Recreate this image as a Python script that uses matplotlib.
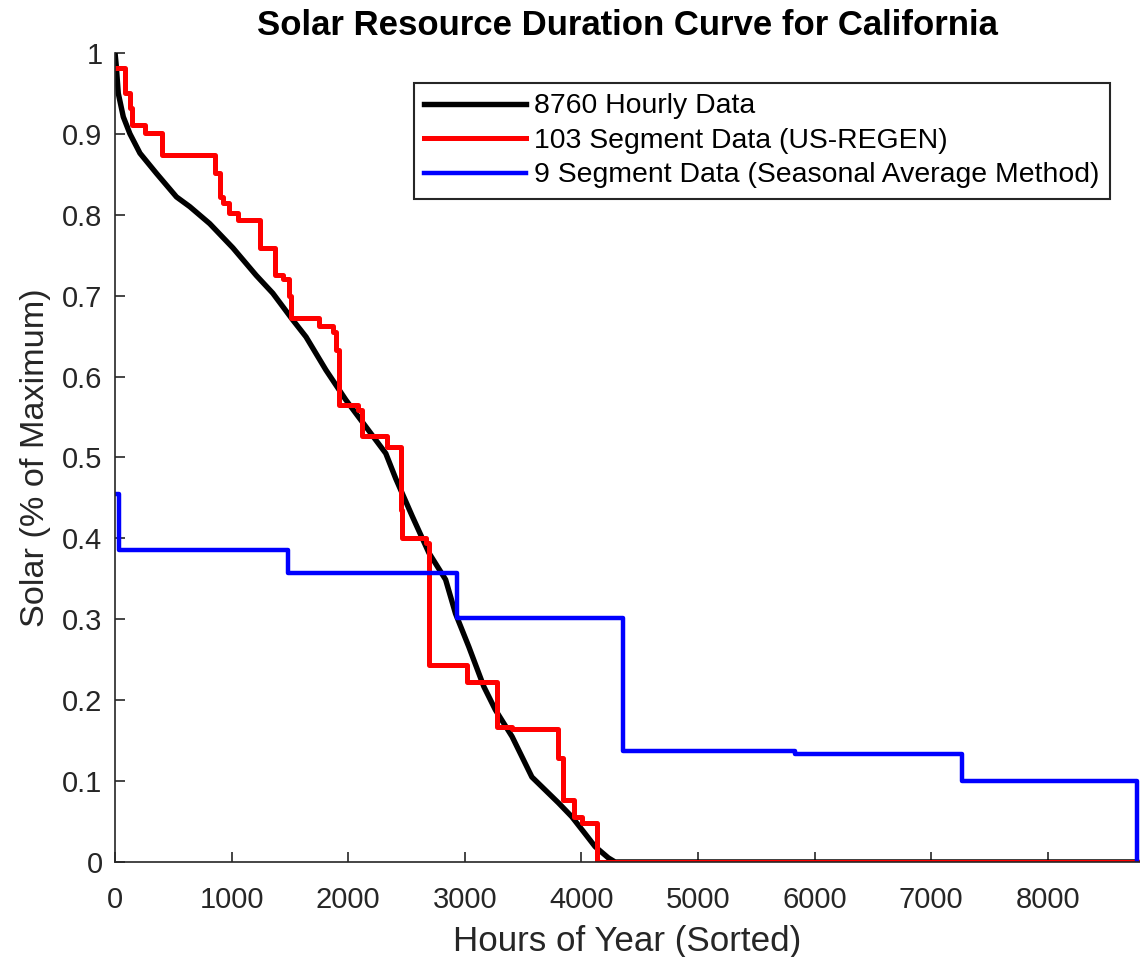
import matplotlib.pyplot as plt

plt.rcParams['font.family'] = ['Liberation Sans', 'DejaVu Sans']

# 8760 hourly data, sorted
hourly_x = [0, 10, 28, 71, 128, 214, 356, 527, 641, 812, 1011, 1211, 1353, 1524,
            1638, 1809, 1980, 2151, 2322, 2407, 2550, 2692, 2835, 2920, 3034,
            3162, 3262, 3405, 3490, 3575, 3689, 3803, 3917, 4031, 4117, 4231,
            4288, 8760]
hourly_y = [1.0, 0.985, 0.95, 0.921, 0.90, 0.876, 0.851, 0.822, 0.810, 0.789,
            0.759, 0.725, 0.703, 0.670, 0.649, 0.608, 0.571, 0.538, 0.505, 0.474,
            0.427, 0.382, 0.349, 0.307, 0.266, 0.217, 0.188, 0.155, 0.130, 0.105,
            0.089, 0.073, 0.056, 0.035, 0.019, 0.005, 0.0, 0.0]

# 103 segment data (US-REGEN): segment start hour and level
regen_x = [0, 85, 128, 142, 256, 399, 855, 900, 930, 975, 1054, 1245, 1368,
           1439, 1496, 1510, 1752, 1866, 1895, 1917, 2080, 2120, 2336, 2450,
           2464, 2663, 2690, 3020, 3276, 3405, 3803, 3846, 3932, 4003, 4131, 8760]
regen_y = [0.981, 0.950, 0.932, 0.911, 0.901, 0.874, 0.852, 0.822, 0.815, 0.802,
           0.793, 0.759, 0.726, 0.720, 0.700, 0.672, 0.662, 0.655, 0.633, 0.565,
           0.559, 0.526, 0.513, 0.435, 0.400, 0.394, 0.244, 0.223, 0.167, 0.164,
           0.128, 0.077, 0.056, 0.048, 0.0, 0.0]

# 9 segment data (seasonal average method)
season_x = [0, 30, 1480, 2934, 4359, 5830, 7265, 8760]
season_y = [0.455, 0.385, 0.357, 0.301, 0.137, 0.134, 0.100, 0.0]

fig = plt.figure(figsize=(11.4, 9.57), dpi=100)
ax = fig.add_axes([0.1009, 0.0993, 0.8991, 0.8454])

ax.plot(hourly_x, hourly_y, color='black', lw=3.9, label='8760 Hourly Data')
ax.step(regen_x, regen_y, where='post', color='#ff0000', lw=3.6,
        label='103 Segment Data (US-REGEN)')
ax.step(season_x, season_y, where='post', color='#0000ff', lw=3.2,
        label='9 Segment Data (Seasonal Average Method)')

ax.set_xlim(0, 8790)
ax.set_ylim(0, 1)
ax.set_xticks(range(0, 8001, 1000))
ax.set_yticks([i / 10 for i in range(11)])
ax.set_yticklabels(['0', '0.1', '0.2', '0.3', '0.4', '0.5', '0.6', '0.7', '0.8', '0.9', '1'])

for s in ['top', 'right']:
    ax.spines[s].set_visible(False)
for s in ['left', 'bottom']:
    ax.spines[s].set_color('#262626')
    ax.spines[s].set_linewidth(1.2)
ax.tick_params(direction='in', length=7, width=1.2, color='#262626',
               labelcolor='#262626', labelsize=21)
ax.tick_params(axis='x', pad=17)
ax.tick_params(axis='y', pad=9)

ax.set_title('Solar Resource Duration Curve for California', fontsize=25,
             fontweight='bold', pad=13)
ax.set_xlabel('Hours of Year (Sorted)', fontsize=25.2, color='#262626', labelpad=8)
ax.set_ylabel('Solar (% of Maximum)', fontsize=24.7, color='#262626', labelpad=8)

leg = ax.legend(loc='upper right', bbox_to_anchor=(0.9707, 0.9625), borderaxespad=0,
                fontsize=20.4, handlelength=3.6, handletextpad=0.3, labelspacing=0.3,
                borderpad=0.36, fancybox=False, framealpha=1, edgecolor='#262626')
leg.get_frame().set_linewidth(1.5)

fig.savefig('out.png', dpi=100)
